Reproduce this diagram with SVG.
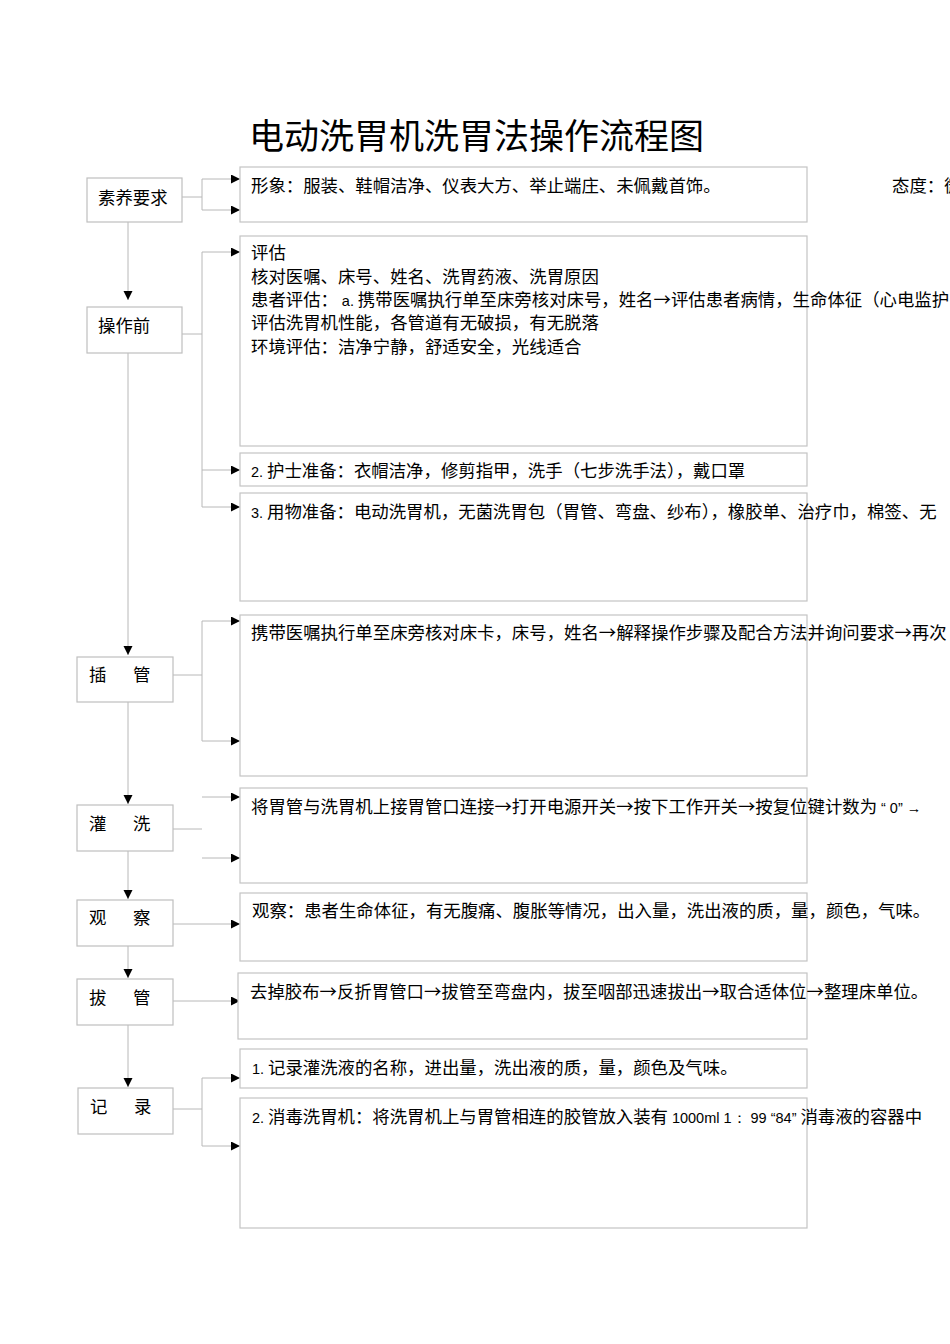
<svg xmlns="http://www.w3.org/2000/svg" width="950" height="1344" viewBox="0 0 950 1344">
<style>
text{font-family:"Noto Sans CJK SC","Noto Sans",sans-serif;fill:#000;font-size:17.4px}
.title{font-size:35px}
.node{fill:#fff;stroke:#bfbfbf;stroke-width:1.2}
.box{fill:#fff;stroke:#c4c4c4;stroke-width:1.2}
.ln{fill:none;stroke:#b8b8b8;stroke-width:1}
.sm{font-family:"Liberation Sans","Noto Sans",sans-serif;font-size:14.5px}
</style>
<defs>
<marker id="ah" markerUnits="userSpaceOnUse" markerWidth="10" markerHeight="10" refX="9" refY="4.5" orient="auto">
<path d="M0,0 L9,4.5 L0,9 Z" fill="#000"/>
</marker>
</defs>
<rect width="950" height="1344" fill="#fff"/>
<text class="title" x="249" y="149">电动洗胃机洗胃法操作流程图</text>

<g id="connectors">
<path class="ln" d="M128,222 V300" marker-end="url(#ah)"/>
<path class="ln" d="M128,353 V655" marker-end="url(#ah)"/>
<path class="ln" d="M128,702 V804" marker-end="url(#ah)"/>
<path class="ln" d="M128,851 V899" marker-end="url(#ah)"/>
<path class="ln" d="M128,946 V978" marker-end="url(#ah)"/>
<path class="ln" d="M128,1025 V1087" marker-end="url(#ah)"/>

<path class="ln" d="M182,197 H202 M202,179 V210"/>
<path class="ln" d="M202,179 H240" marker-end="url(#ah)"/>
<path class="ln" d="M202,210 H240" marker-end="url(#ah)"/>

<path class="ln" d="M182,334 H202 M202,252 V507"/>
<path class="ln" d="M202,252 H240" marker-end="url(#ah)"/>
<path class="ln" d="M202,470 H240" marker-end="url(#ah)"/>
<path class="ln" d="M202,507 H240" marker-end="url(#ah)"/>

<path class="ln" d="M173,675 H202 M202,621 V741"/>
<path class="ln" d="M202,621 H240" marker-end="url(#ah)"/>
<path class="ln" d="M202,741 H240" marker-end="url(#ah)"/>

<path class="ln" d="M173,829 H202"/>
<path class="ln" d="M202,797 H240" marker-end="url(#ah)"/>
<path class="ln" d="M202,858 H240" marker-end="url(#ah)"/>

<path class="ln" d="M173,924 H240" marker-end="url(#ah)"/>
<path class="ln" d="M173,1001 H240" marker-end="url(#ah)"/>

<path class="ln" d="M173,1109 H202 M202,1078 V1146"/>
<path class="ln" d="M202,1078 H240" marker-end="url(#ah)"/>
<path class="ln" d="M202,1146 H240" marker-end="url(#ah)"/>
</g>

<g id="n-suyang"><rect class="node" x="87" y="178" width="95" height="44"/><text x="98" y="204">素养要求</text></g>
<g id="n-caozuoqian"><rect class="node" x="87" y="307" width="95" height="46"/><text x="98" y="332">操作前</text></g>
<g id="n-chaguan"><rect class="node" x="77" y="657" width="96" height="45"/><text x="89" y="681">插<tspan x="133">管</tspan></text></g>
<g id="n-guanxi"><rect class="node" x="77" y="805" width="96" height="46"/><text x="89" y="830">灌<tspan x="133">洗</tspan></text></g>
<g id="n-guancha"><rect class="node" x="77" y="900" width="96" height="46"/><text x="89" y="924">观<tspan x="133">察</tspan></text></g>
<g id="n-baguan"><rect class="node" x="77" y="979" width="96" height="46"/><text x="89" y="1004">拔<tspan x="133">管</tspan></text></g>
<g id="n-jilu"><rect class="node" x="78" y="1088" width="95" height="46"/><text x="90" y="1113">记<tspan x="134">录</tspan></text></g>

<g id="c-suyang"><rect class="box" x="240" y="167" width="567" height="55"/>
<text x="251" y="192">形象：服装、鞋帽洁净、仪表大方、举止端庄、未佩戴首饰。</text>
<text x="892" y="192">态度：微</text></g>

<g id="c-pinggu"><rect class="box" x="240" y="236" width="567" height="210"/>
<text x="251" y="259">评估</text>
<text x="251" y="283">核对医嘱、床号、姓名、洗胃药液、洗胃原因</text>
<text x="251" y="306">患者评估： <tspan class="sm">a.</tspan> 携带医嘱执行单至床旁核对床号，姓名→评估患者病情，生命体征（心电监护</text>
<text x="251" y="329">评估洗胃机性能，各管道有无破损，有无脱落</text>
<text x="251" y="353">环境评估：洁净宁静，舒适安全，光线适合</text></g>

<g id="c-hushi"><rect class="box" x="240" y="453" width="567" height="33"/>
<text x="251" y="477"><tspan class="sm">2.</tspan> 护士准备：衣帽洁净，修剪指甲，洗手（七步洗手法），戴口罩</text></g>

<g id="c-yongwu"><rect class="box" x="240" y="493" width="567" height="108"/>
<text x="251" y="518"><tspan class="sm">3.</tspan> 用物准备：电动洗胃机，无菌洗胃包（胃管、弯盘、纱布），橡胶单、治疗巾，棉签、无</text></g>

<g id="c-chaguan"><rect class="box" x="240" y="615" width="567" height="161"/>
<text x="251" y="639">携带医嘱执行单至床旁核对床卡，床号，姓名→解释操作步骤及配合方法并询问要求→再次</text></g>

<g id="c-guanxi"><rect class="box" x="240" y="788" width="567" height="95"/>
<text x="251" y="813">将胃管与洗胃机上接胃管口连接→打开电源开关→按下工作开关→按复位键计数为 <tspan class="sm">“ 0” →</tspan></text></g>

<g id="c-guancha"><rect class="box" x="240" y="893" width="567" height="68"/>
<text x="252" y="917">观察：患者生命体征，有无腹痛、腹胀等情况，出入量，洗出液的质，量，颜色，气味。</text></g>

<g id="c-baguan"><rect class="box" x="238" y="973" width="569" height="66"/>
<text x="250" y="998">去掉胶布→反折胃管口→拔管至弯盘内，拔至咽部迅速拔出→取合适体位→整理床单位。</text></g>

<g id="c-jilu1"><rect class="box" x="240" y="1049" width="567" height="39"/>
<text x="252" y="1074"><tspan class="sm">1.</tspan> 记录灌洗液的名称，进出量，洗出液的质，量，颜色及气味。</text></g>

<g id="c-jilu2"><rect class="box" x="240" y="1098" width="567" height="130"/>
<text x="252" y="1123"><tspan class="sm">2.</tspan> 消毒洗胃机：将洗胃机上与胃管相连的胶管放入装有 <tspan class="sm">1000ml 1：  99 “84”</tspan> 消毒液的容器中</text></g>
</svg>
